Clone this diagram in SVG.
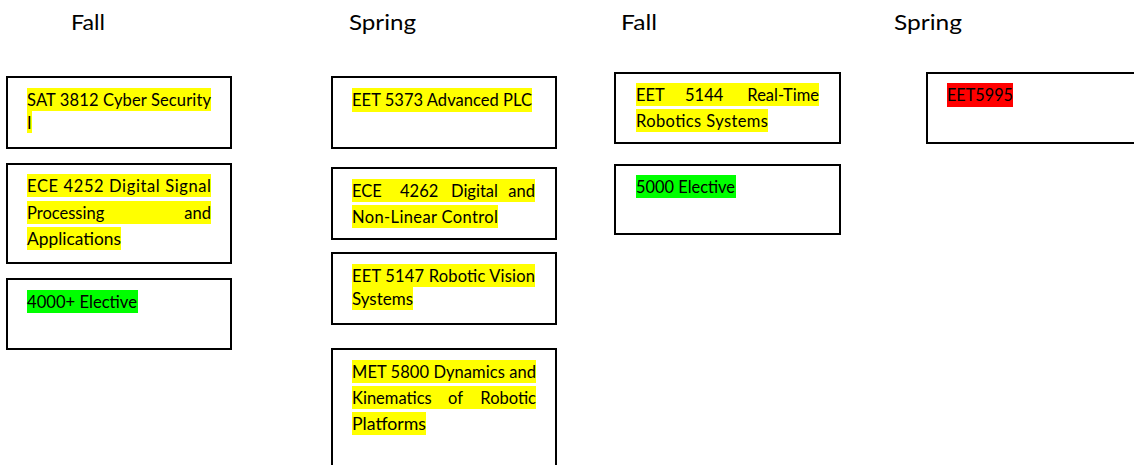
<svg xmlns="http://www.w3.org/2000/svg" width="1134" height="465" viewBox="0 0 1134 465">
<style>
.box{fill:#fff;stroke:#000;stroke-width:2}
.hd{font-family:Lato,"Open Sans","Liberation Sans",sans-serif;font-size:21px;fill:#000}
.t{font-family:Lato,"Open Sans","Liberation Sans",sans-serif;font-size:16.5px;fill:#000}
.y{fill:#ffff00}
.g{fill:#00ff00}
.r{fill:#ff0000}
</style>
<rect width="1134" height="465" fill="#fff"/>
<g id="headers">
<text class="hd" x="71" y="30" textLength="34" lengthAdjust="spacingAndGlyphs">Fall</text>
<text class="hd" x="349" y="30" textLength="67" lengthAdjust="spacingAndGlyphs">Spring</text>
<text class="hd" x="621" y="30" textLength="36" lengthAdjust="spacingAndGlyphs">Fall</text>
<text class="hd" x="894" y="30" textLength="68" lengthAdjust="spacingAndGlyphs">Spring</text>
</g>
<g id="sat3812">
<rect class="box" x="7" y="77" width="224" height="71"/>
<rect class="y" x="27" y="88" width="184" height="23"/>
<rect class="y" x="27" y="111" width="5" height="22"/>
<text class="t" x="27" y="106" textLength="184" lengthAdjust="spacing">SAT 3812 Cyber Security</text>
<text class="t" x="27" y="129">I</text>
</g>
<g id="ece4252">
<rect class="box" x="7" y="164" width="224" height="99"/>
<rect class="y" x="27" y="174" width="184" height="23"/>
<rect class="y" x="27" y="201" width="184" height="23"/>
<rect class="y" x="27" y="227" width="94" height="23"/>
<text class="t" x="27" y="192" textLength="184" lengthAdjust="spacing">ECE 4252 Digital Signal</text>
<text class="t" x="27" y="219"><tspan x="27">Processing</tspan><tspan x="211" text-anchor="end">and</tspan></text>
<text class="t" x="27" y="245" textLength="94" lengthAdjust="spacingAndGlyphs">Applications</text>
</g>
<g id="elective4000">
<rect class="box" x="7" y="279" width="224" height="70"/>
<rect class="g" x="27" y="290" width="111" height="23"/>
<text class="t" x="27" y="308" textLength="110" lengthAdjust="spacingAndGlyphs">4000+ Elective</text>
</g>
<g id="eet5373">
<rect class="box" x="332" y="77" width="224" height="71"/>
<rect class="y" x="352" y="88" width="180" height="24"/>
<text class="t" x="352" y="106" textLength="180" lengthAdjust="spacing">EET 5373 Advanced PLC</text>
</g>
<g id="ece4262">
<rect class="box" x="332" y="168" width="224" height="71"/>
<rect class="y" x="352" y="179" width="183" height="23"/>
<rect class="y" x="352" y="205" width="146" height="23"/>
<text class="t" y="197"><tspan x="352">ECE</tspan><tspan x="400">4262</tspan><tspan x="451">Digital</tspan><tspan x="535" text-anchor="end">and</tspan></text>
<text class="t" x="352" y="223" textLength="146" lengthAdjust="spacing">Non-Linear Control</text>
</g>
<g id="eet5147">
<rect class="box" x="332" y="253" width="224" height="71"/>
<rect class="y" x="352" y="264" width="183" height="23"/>
<rect class="y" x="352" y="287" width="61" height="23"/>
<text class="t" x="352" y="282" textLength="183" lengthAdjust="spacing">EET 5147 Robotic Vision</text>
<text class="t" x="352" y="305" textLength="61" lengthAdjust="spacingAndGlyphs">Systems</text>
</g>
<g id="met5800">
<rect class="box" x="332" y="349" width="224" height="130"/>
<rect class="y" x="352" y="360" width="184" height="23"/>
<rect class="y" x="352" y="386" width="184" height="23"/>
<rect class="y" x="352" y="412" width="74" height="23"/>
<text class="t" x="352" y="378" textLength="184" lengthAdjust="spacing">MET 5800 Dynamics and</text>
<text class="t" y="404"><tspan x="352">Kinematics</tspan><tspan x="448">of</tspan><tspan x="536" text-anchor="end">Robotic</tspan></text>
<text class="t" x="352" y="430" textLength="74" lengthAdjust="spacingAndGlyphs">Platforms</text>
</g>
<g id="eet5144">
<rect class="box" x="615" y="73" width="225" height="70"/>
<rect class="y" x="636" y="83" width="183" height="23"/>
<rect class="y" x="636" y="109" width="132" height="23"/>
<text class="t" y="101"><tspan x="636">EET</tspan><tspan x="685">5144</tspan><tspan x="819" text-anchor="end">Real-Time</tspan></text>
<text class="t" x="636" y="127" textLength="132" lengthAdjust="spacing">Robotics Systems</text>
</g>
<g id="elective5000">
<rect class="box" x="615" y="165" width="225" height="69"/>
<rect class="g" x="636" y="175" width="100" height="23"/>
<text class="t" x="636" y="193" textLength="99" lengthAdjust="spacingAndGlyphs">5000 Elective</text>
</g>
<g id="eet5995">
<rect class="box" x="927" y="73" width="220" height="70"/>
<rect class="r" x="947" y="83" width="66" height="24"/>
<text class="t" x="947" y="101" textLength="66" lengthAdjust="spacingAndGlyphs">EET5995</text>
</g>
</svg>
